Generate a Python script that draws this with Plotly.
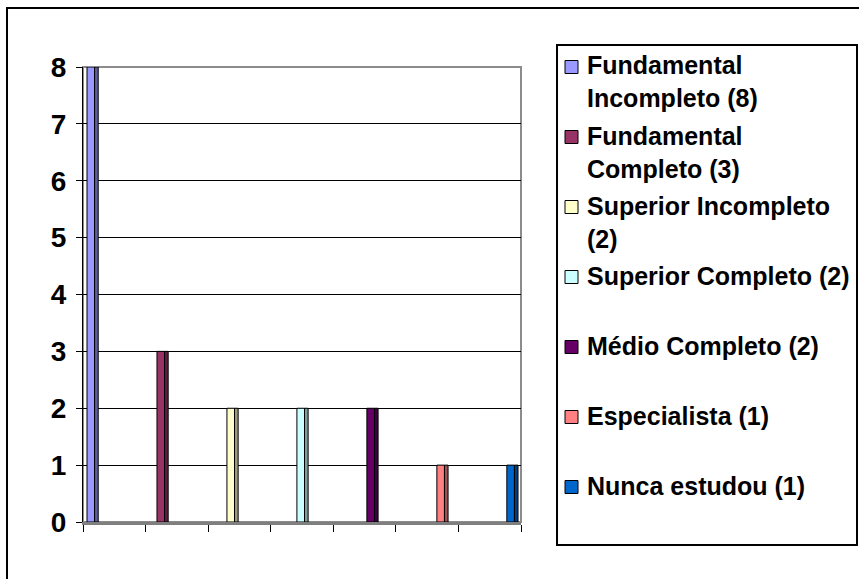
import plotly.graph_objects as go

# Escolaridade dos entrevistados (quantidade de pessoas por nível).
# "\n" marks where the legend text wraps.
categorias = [
    "Fundamental\nIncompleto",
    "Fundamental\nCompleto",
    "Superior Incompleto\n",
    "Superior Completo",
    "Médio Completo",
    "Especialista",
    "Nunca estudou",
]
valores = [8, 3, 2, 2, 2, 1, 1]
cores = ["#9999FF", "#993366", "#FFFFCC", "#CCFFFF", "#660066", "#FF8080", "#0066CC"]
y_ticks = [0, 1, 2, 3, 4, 5, 6, 7, 8]

FONT = "Liberation Sans, Arial, sans-serif"
W, H = 859, 579
PL, PR, PT, PB = 83, 521, 67, 522  # plot area in pixels


def xp(px):
    return (px - PL) / (PR - PL)


def yp(py):
    return (PB - py) / (PB - PT)


def sombra(hexcor, f=0.62):
    h = hexcor.lstrip("#")
    r, g, b = (int(h[i:i + 2], 16) for i in (0, 2, 4))
    return "rgb({},{},{})".format(int(r * f), int(g * f), int(b * f))


nomes = [c.replace("\n", " ").strip() for c in categorias]
rotulos = [
    ((c if c.endswith("\n") else c + " ") + "({})".format(v)).replace("\n", "<br>")
    for c, v in zip(categorias, valores)
]

cat_px = (PR - PL) / len(categorias)
passo = 7.4 / cat_px      # shift of each series inside its category slot
frente = 7.6 / cat_px     # front face width
lado = 3.6 / cat_px       # side face width (3D look)
inicio = -0.5 + 4.0 / cat_px

fig = go.Figure()
for i, (nome, v, cor) in enumerate(zip(nomes, valores, cores)):
    off = inicio + i * passo
    fig.add_trace(go.Bar(
        x=[nome], y=[v], name=rotulos[i], width=[frente], offset=off,
        marker=dict(color=cor, line=dict(color="black", width=1)),
        hoverinfo="skip",
    ))
    fig.add_trace(go.Bar(
        x=[nome], y=[v], width=[lado], offset=off + frente,
        marker=dict(color=sombra(cor), line=dict(color="black", width=1)),
        showlegend=False, hoverinfo="skip",
    ))

shapes = [
    # plot area walls
    dict(type="rect", xref="paper", yref="paper", x0=0, x1=1, y0=0, y1=1,
         line=dict(color="#8C8C8C", width=2), layer="between"),
    # outer chart frame
    dict(type="rect", xref="paper", yref="paper", x0=xp(7), x1=xp(880),
         y0=yp(600), y1=yp(8), line=dict(color="black", width=2)),
    # legend box
    dict(type="rect", xref="paper", yref="paper", x0=xp(557), x1=xp(857),
         y0=yp(545), y1=yp(45), line=dict(color="black", width=2),
         fillcolor="white"),
]
annotations = []
for i, (rot, cor) in enumerate(zip(rotulos, cores)):
    c = 67 + 70 * i
    shapes.append(dict(type="rect", xref="paper", yref="paper",
                       x0=xp(565), x1=xp(578), y0=yp(c + 6.5), y1=yp(c - 6.5),
                       fillcolor=cor, line=dict(color="black", width=1)))
    annotations.append(dict(
        xref="paper", yref="paper", x=xp(585), y=yp(c - 17.5), xanchor="left",
        yanchor="top", align="left", showarrow=False, text=rot,
        font=dict(family=FONT, size=25, color="black", weight="bold"),
    ))

fig.update_layout(
    width=W, height=H, autosize=False,
    margin=dict(l=PL, r=W - PR, t=PT, b=H - PB, pad=0),
    paper_bgcolor="white", plot_bgcolor="white",
    barmode="overlay", showlegend=False,
    shapes=shapes, annotations=annotations,
    xaxis=dict(
        type="category", categoryorder="array", categoryarray=nomes,
        range=[-0.5, len(nomes) - 0.5], showticklabels=False,
        tickson="boundaries", ticks="outside", ticklen=7, tickcolor="black",
        tickwidth=1, showline=True, linecolor="#7F7F7F", linewidth=3,
        showgrid=False, zeroline=False, fixedrange=True,
    ),
    yaxis=dict(
        range=[0, 8], tickvals=y_ticks, ticks="outside", ticklen=6,
        tickcolor="black", tickwidth=1, showline=True, linecolor="black",
        linewidth=1, showgrid=True, gridcolor="black", gridwidth=1,
        zeroline=False, ticklabelstandoff=4,
        tickfont=dict(family=FONT, size=28, color="black", weight="bold"),
        fixedrange=True,
    ),
)

fig.write_html("out.html", config={"displayModeBar": False})
